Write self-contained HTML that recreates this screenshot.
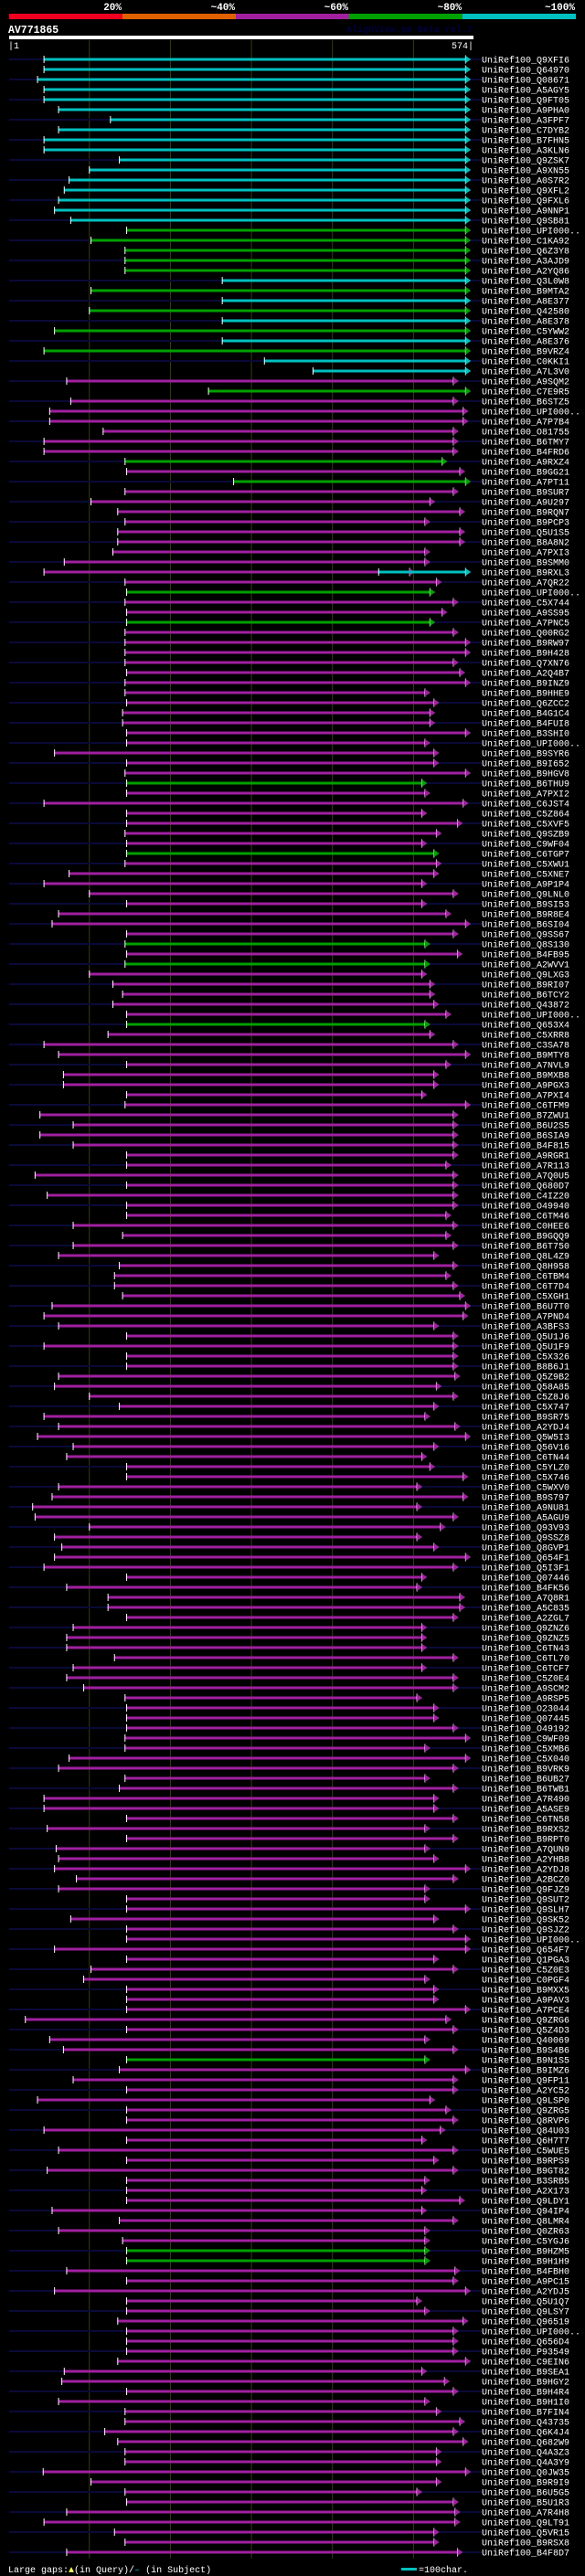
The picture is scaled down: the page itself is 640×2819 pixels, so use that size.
<!DOCTYPE html>
<html><head><meta charset="utf-8">
<style>
html,body{margin:0;padding:0;background:#000;}
body{width:640px;height:2819px;overflow:hidden;}
svg{display:block;}
</style></head>
<body>
<svg id="chart" xmlns="http://www.w3.org/2000/svg" width="640" height="2819" viewBox="0 0 640 2819" font-family="'Liberation Mono', monospace">
  <rect x="0" y="0" width="640" height="2819" fill="#000"/>
  <g>
    <rect x="10" y="15" width="124" height="6" fill="#f00020"/>
    <rect x="134" y="15" width="124" height="6" fill="#e06000"/>
    <rect x="258" y="15" width="124" height="6" fill="#a020a0"/>
    <rect x="382" y="15" width="124" height="6" fill="#00a000"/>
    <rect x="506" y="15" width="124" height="6" fill="#00c0c0"/>
    <text x="133" y="11" fill="#fff" font-size="11" font-weight="bold" text-anchor="end">20%</text>
    <text x="257" y="11" fill="#fff" font-size="11" font-weight="bold" text-anchor="end">~40%</text>
    <text x="381" y="11" fill="#fff" font-size="11" font-weight="bold" text-anchor="end">~60%</text>
    <text x="505" y="11" fill="#fff" font-size="11" font-weight="bold" text-anchor="end">~80%</text>
    <text x="629" y="11" fill="#fff" font-size="11" font-weight="bold" text-anchor="end">~100%</text>
  </g>
  <text x="9" y="36" fill="#fff" font-size="11.5" font-weight="bold">AV771865</text>
  <text x="517" y="35" fill="#000040" font-size="10" font-weight="bold" text-anchor="end">AlignView.pm Beta rel.7</text>
  <rect x="10" y="39" width="508" height="4" fill="#fff"/>
  <text x="9" y="53" fill="#fff" font-size="10">|1</text>
  <text x="518" y="53" fill="#fff" font-size="10" text-anchor="end">574|</text>
  <g id="grid"></g>
  <g id="rows"></g>
  <g>
    <text x="9" y="2815" fill="#fff" font-size="10">Large gaps:<tspan fill="#ffff60">▲</tspan>(in Query)/<tspan fill="#00c0c0">–</tspan> (in Subject)</text>
    <rect x="439" y="2810" width="17" height="3" fill="#00c0c0"/>
    <text x="458" y="2815" fill="#fff" font-size="10">=100char.</text>
  </g>
</svg>
<script>
const queryLength = 574;
const gridTicks = [100, 200, 300, 400, 500];
const labels = ["Q9XFI6","Q64970","Q08671","A5AGY5","Q9FT05","A9PHA0","A3FPF7","C7DYB2","B7FHN5","A3KLN6","Q9ZSK7","A9XN55","A0S7R2","Q9XFL2","Q9FXL6","A9NNP1","Q9SB81","UPI000..","C1KA92","Q6Z3Y8","A3AJD9","A2YQ86","Q3L0W8","B9MTA2","A8E377","Q42580","A8E378","C5YWW2","A8E376","B9VRZ4","C0KKI1","A7L3V0","A9SQM2",
"C7E9R5","B6STZ5","UPI000..","A7P7B4","O81755","B6TMY7","B4FRD6","A9RXZ4","B9GG21","A7PT11","B9SUR7","A9U297","B9RQN7","B9PCP3","Q5U1S5","B8A8N2","A7PXI3","B9SMM0","B9RXL3","A7QR22","UPI000..","C5X744","A9SS95","A7PNC5","Q00RG2","B9RW97","B9H428","Q7XN76",
"A2Q4B7","B9INZ9","B9HHE9","Q6ZCC2","B4G1C4","B4FUI8","B3SHI0","UPI000..","B9SYR6","B9I652","B9HGV8","B6THU9","A7PXI2","C6JST4","C5Z864","C5XVF5","Q9SZB9","C9WF04","C6TGP7","C5XWU1","C5XNE7","A9P1P4","Q9LNL0","B9SI53","B9R8E4","B6SI04","Q9SS67","Q8S130",
"B4FB95","A2WVV1","Q9LXG3","B9RI07","B6TCY2","Q43872","UPI000..","Q653X4","C5XRR8","C3SA78","B9MTY8","A7NVL9","B9MXB8","A9PGX3","A7PXI4","C6TFM9","B7ZWU1","B6U2S5","B6SIA9","B4F815","A9RGR1","A7R113","A7Q0U5","Q680D7","C4IZ20","O49940",
"C6TM46","C0HEE6","B9GQQ9","B6T750","Q8L4Z9","Q8H958","C6TBM4","C6T7D4","C5XGH1","B6U7T0","A7PND4","A3BFS3","Q5U1J6","Q5U1F9","C5X326","B8B6J1","Q5Z9B2","Q58A85","C5Z8J6","C5X747","B9SR75","A2YDJ4","Q5W5I3","Q56V16","C6TN44","C5YLZ0","C5X746",
"C5WXV0","B9S797","A9NU81","A5AGU9","Q93V93","Q9SSZ8","Q8GVP1","Q654F1","Q5I3F1","Q07446","B4FK56","A7Q8R1","A5C835","A2ZGL7","Q9ZNZ6","Q9ZNZ5","C6TN43","C6TL70","C6TCF7","C5Z0E4","A9SCM2","A9RSP5","O23044","Q07445","O49192","C9WF09",
"C5XMB6","C5X040","B9VRK9","B6UB27","B6TWB1","A7R490","A5ASE9","C6TN58","B9RXS2","B9RPT0","A7QUN9","A2YHB8","A2YDJ8","A2BCZ0","Q9FJZ9","Q9SUT2","Q9SLH7","Q9SK52","Q9SJZ2","UPI000..","Q654F7","Q1PGA3","C5Z0E3","C0PGF4","B9MXX5","A9PAV3","A7PCE4",
"Q9ZRG6","Q5Z4D3","Q40069","B9S4B6","B9N1S5","B9IMZ6","Q9FP11","A2YC52","Q9LSP0","Q9ZRG5","Q8RVP6","Q84U03","Q6H7T7","C5WUE5","B9RPS9","B9GT82","B3SRB5","A2X173","Q9LDY1","Q94IP4","Q8LMR4","Q0ZR63","C5YGJ6","B9HZM5","B9H1H9","B4FBH0",
"A9PC15","A2YDJ5","Q5U1Q7","Q9LSY7","Q96519","UPI000..","Q656D4","P93549","C9EIN6","B9SEA1","B9HGY2","B9H4R4","B9H1I0","B7FIN4","Q43735","Q6K4J4","Q682W9","Q4A3Z3","Q4A3Y9","Q0JW35","B9R9I9","B6U5G5","B5U1R3","A7R4H8","Q9LT91","Q5VR15","B9RSX8","B4F8D7"];
const starts = [44,44,36,44,44,62,126,62,44,44,137,100,75,69,62,57,77,146,102,144,144,144,264,102,264,100,264,57,264,44,316,376,72,
247,77,51,51,117,44,44,144,146,278,144,102,135,144,135,135,129,69,44,144,146,144,146,146,144,144,144,144,
146,144,144,146,141,141,146,146,57,146,144,146,146,44,146,146,144,146,146,144,75,44,100,146,62,54,146,144,
146,144,100,129,141,129,146,146,123,44,62,146,68,68,146,144,39,80,39,80,146,146,33,146,48,146,
146,80,141,80,62,137,131,131,141,54,44,62,146,44,146,146,62,57,100,137,44,62,36,80,72,146,146,
62,54,30,33,100,57,66,57,44,146,72,123,123,146,80,72,72,131,80,72,93,144,146,146,146,144,
144,75,62,144,137,44,44,146,48,146,59,62,57,84,62,146,146,77,146,146,57,146,102,93,146,146,146,
21,146,51,68,146,137,80,146,36,146,146,44,146,62,146,48,146,146,146,54,137,62,141,146,146,72,
146,57,146,146,135,146,146,146,135,69,66,146,62,144,144,119,135,144,144,43,102,144,146,72,44,131,144,72];
const ends = [571,571,571,571,571,571,571,571,571,571,571,571,571,571,571,571,571,571,571,571,571,571,571,571,571,571,571,571,571,571,571,571,556,
571,556,568,568,556,556,556,542,564,571,556,527,564,521,564,564,521,521,502,535,527,556,542,527,556,571,571,556,
564,571,521,532,527,527,571,521,532,532,571,517,521,568,517,561,535,517,532,535,532,517,556,517,547,571,556,521,
561,521,517,527,527,532,547,521,527,556,571,547,532,532,517,571,556,556,556,556,556,547,556,556,556,556,
547,556,547,556,532,556,547,556,564,571,568,532,556,556,556,556,558,535,556,532,521,558,571,532,517,527,568,
511,568,511,556,540,511,532,571,556,517,511,564,564,556,517,517,517,556,517,556,556,511,532,532,556,571,
521,571,556,521,556,532,532,556,521,556,521,532,571,556,521,521,571,532,556,571,571,532,556,521,532,532,571,
547,556,521,556,521,571,556,556,527,547,556,540,517,556,532,556,521,517,564,517,556,521,521,521,521,558,
556,571,511,521,568,556,556,556,571,517,545,556,521,535,564,556,568,535,535,571,535,511,556,558,558,532,532,561];
const cyanRows = [1,2,3,4,5,6,7,8,9,10,11,12,13,14,15,16,17,23,25,27,29,31,32];
const greenRows = [18,19,20,21,22,24,26,28,30,34,41,43,54,57,73,80,89,91,97,200,219,220];
const extraRow = [52];
const extraStart = [457];
const extraEnd = [571];

const NS = "http://www.w3.org/2000/svg";
const X0 = 10, X1 = 518;
function xScale(q){ return X0 + (q - 1) * (X1 - X0) / (queryLength - 1); }
function yRow(i){ return 65 + i * 11; }
const COLORS = {c:"#00c0c0", g:"#00a000", m:"#a020a0"};
function mk(tag, attrs){ const e = document.createElementNS(NS, tag); for (const k in attrs) e.setAttribute(k, attrs[k]); return e; }

const grid = document.getElementById("grid");
gridTicks.forEach(t => {
  const l = mk("line", {x1:xScale(t), x2:xScale(t), y1:44, y2:2800, stroke:"#3a3a12", "stroke-width":1});
  
  
  grid.appendChild(l);
});

const rows = document.getElementById("rows");
function drawHit(g, s, e, y, col){
  const xs = xScale(s), xe = xScale(e);
  const bar = mk("rect", {x:xs, y:y-1.5, width:Math.max(0, xe - 6 - xs), height:3, fill:col});
  
  
  g.appendChild(bar);
  const tick = mk("rect", {x:xs-0.5, y:y-4, width:1, height:8, fill:"#fff"});
  
  
  g.appendChild(tick);
  const wl = mk("rect", {x:xe-6.5, y:y-4.5, width:1, height:9, fill:"#fff"});
  
  
  g.appendChild(wl);
  const tri = mk("polygon", {points:(xe-6)+","+(y-4)+" "+xe+","+y+" "+(xe-6)+","+(y+4), fill:col});
  
  
  g.appendChild(tri);
}
labels.forEach((lab, i) => {
  const n = i + 1, y = yRow(i);
  const g = mk("g", {});
  
  
  if (n % 2 === 1) {
    const bg = mk("rect", {x:10, y:y-1, width:517, height:2, fill:"#0a0a38"});
    
    
    g.appendChild(bg);
  }
  const key = cyanRows.includes(n) ? "c" : (greenRows.includes(n) ? "g" : "m");
  drawHit(g, starts[i], ends[i], y, COLORS[key]);
  const ei = extraRow.indexOf(n);
  if (ei >= 0) drawHit(g, extraStart[ei], extraEnd[ei], y, COLORS.c);
  const t = mk("text", {x:527, y:y+3.5, fill:"#fff", "font-size":10});
  
  
  t.textContent = "UniRef100_" + lab;
  g.appendChild(t);
  rows.appendChild(g);
});
</script>
</body></html>
